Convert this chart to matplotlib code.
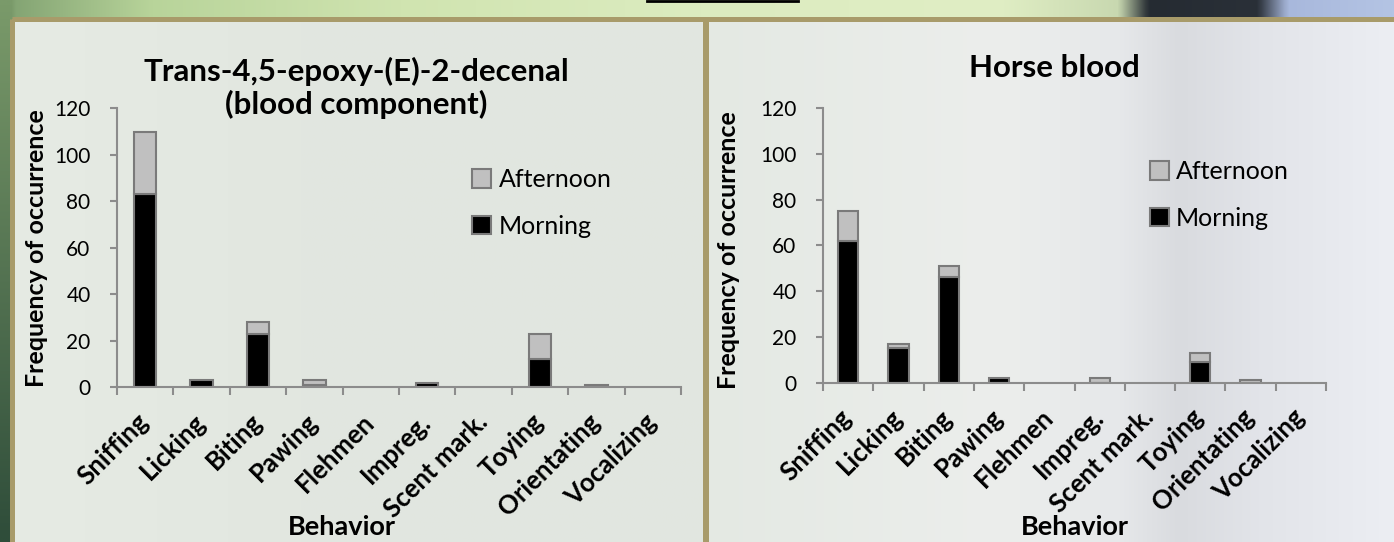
import numpy as np
import matplotlib.pyplot as plt
from matplotlib.patches import Rectangle
from matplotlib.colors import to_rgb

plt.rcParams['font.family'] = ['Lato', 'DejaVu Sans']

behaviors = ['Sniffing', 'Licking', 'Biting', 'Pawing', 'Flehmen', 'Impreg.',
             'Scent mark.', 'Toying', 'Orientating', 'Vocalizing']
epoxy_morning = [83, 3, 23, 1, 0, 2, 0, 12, 0, 0]
epoxy_afternoon = [27, 0, 5, 2, 0, 0, 0, 11, 1, 0]
blood_morning = [62, 15, 46, 2, 0, 0, 0, 9, 0, 0]
blood_afternoon = [13, 2, 5, 0, 0, 2, 0, 4, 1, 0]
y_ticks = [0, 20, 40, 60, 80, 100, 120]

W, H = 1394, 542
fig = plt.figure(figsize=(W / 100, H / 100), dpi=100)

# blurred photo behind the panels (only the edges show)
bg = fig.add_axes([0, 0, 1, 1])
bg.set_xlim(0, W)
bg.set_ylim(H, 0)
bg.axis('off')


def strip(xs, colors, x0, x1, n=300):
    cols = np.linspace(x0, x1, n)
    rgb = np.array([to_rgb(c) for c in colors])
    out = np.zeros((2, n, 3))
    for k in range(3):
        out[:, :, k] = np.interp(cols, xs, rgb[:, k])
    return out


img = np.repeat(strip([0, 150, 400, 700, 1000, 1120, 1150, 1260, 1290, 1394],
                      ['#7fa070', '#b8d49a', '#d0e4b0', '#dcecc0', '#e0eec4',
                       '#c8d8b0', '#252b32', '#2a3038', '#a8b8dc', '#b4c4e4'],
                      0, W), 27, axis=0)
left_c = np.array([to_rgb('#7a9a6a'), to_rgb('#2f4d3a')])
for r in range(54):
    t = r / 53
    img[r, :3] = left_c[0] * (1 - t) + left_c[1] * t
bg.imshow(img, extent=[0, W, H, 0], aspect='auto', interpolation='bilinear')
bg.plot([647, 798], [1, 1], color='black', lw=2)

# the two framed panels, with the photo faintly showing through
bg.imshow(strip([12, 300, 706], ['#e6ebe4', '#e2e7e0', '#e1e6e0'], 12, 706),
          extent=[12, 706, H, 19], aspect='auto', interpolation='bilinear')
bg.imshow(strip([705, 1000, 1120, 1180, 1260, 1394],
                ['#e4e9e3', '#eceeec', '#e6e8ea', '#d9dbdf', '#e2e4e9', '#eceef3'],
                705, W), extent=[705, W, H, 19], aspect='auto',
          interpolation='bilinear')
bg.add_patch(Rectangle((12, 19), 694, 540, facecolor='none',
                       edgecolor='#a89b6a', lw=3.6))
bg.add_patch(Rectangle((705, 19), 700, 540, facecolor='none',
                       edgecolor='#a89b6a', lw=3.6))
bg.set_xlim(0, W)
bg.set_ylim(H, 0)

axis_grey = '#8c8c8c'


def nz(vals):
    return [v if v else np.nan for v in vals]


def draw_panel(rect, morning, afternoon, legend_xy):
    ax = fig.add_axes(rect)
    ax.set_facecolor('none')
    x = np.arange(len(behaviors))
    m = ax.bar(x, nz(morning), 0.4, color='black', edgecolor='#7a7a7a',
               linewidth=1.5)
    a = ax.bar(x, nz(afternoon), 0.4, bottom=morning, color='#c0c0c0',
               edgecolor='#7a7a7a', linewidth=1.5)
    ax.set_xlim(-0.5, len(behaviors) - 0.5)
    ax.set_ylim(0, 120)
    ax.set_yticks(y_ticks)
    ax.set_xticks(x)
    ax.set_xticklabels(behaviors, rotation=45, ha='right', va='center',
                       rotation_mode='anchor', fontweight='bold', fontsize=18.5)
    ax.set_xticks(np.arange(-0.5, len(behaviors)), minor=True)
    ax.tick_params(axis='x', which='major', length=0, pad=22)
    ax.tick_params(axis='x', which='minor', length=6, width=1.5, color=axis_grey)
    ax.tick_params(axis='y', length=5, width=1.5, color=axis_grey, pad=14,
                   labelsize=15)
    for s in ['top', 'right']:
        ax.spines[s].set_visible(False)
    for s in ['left', 'bottom']:
        ax.spines[s].set_color(axis_grey)
        ax.spines[s].set_linewidth(1.5)
    ax.legend([a, m], ['Afternoon', 'Morning'], loc='upper left',
              bbox_to_anchor=legend_xy, frameon=False, fontsize=18,
              handlelength=0.75, handleheight=0.75, handletextpad=0.3,
              labelspacing=0.95, borderpad=0, borderaxespad=0)
    return ax


draw_panel([117 / W, 1 - 387.3 / H, 564 / W, 279 / H],
           epoxy_morning, epoxy_afternoon, (0.63, 0.785))
draw_panel([823 / W, 1 - 382.7 / H, 503 / W, 274.7 / H],
           blood_morning, blood_afternoon, (0.65, 0.81))

fig.text(356 / W, 1 - 88 / H, 'Trans-4,5-epoxy-(E)-2-decenal\n(blood component)',
         ha='center', va='center', fontsize=22.5, fontweight='bold',
         linespacing=1.15)
fig.text(1054 / W, 1 - 68 / H, 'Horse blood', ha='center', va='center',
         fontsize=22.5, fontweight='bold')
fig.text(37 / W, 1 - 248 / H, 'Frequency of occurrence', rotation=90,
         ha='center', va='center', fontsize=18, fontweight='bold')
fig.text(729 / W, 1 - 250 / H, 'Frequency of occurrence', rotation=90,
         ha='center', va='center', fontsize=18, fontweight='bold')
fig.text(342 / W, 1 - 527 / H, 'Behavior', ha='center', va='center',
         fontsize=19.5, fontweight='bold')
fig.text(1075 / W, 1 - 527 / H, 'Behavior', ha='center', va='center',
         fontsize=19.5, fontweight='bold')

fig.savefig('out.png', dpi=100)
